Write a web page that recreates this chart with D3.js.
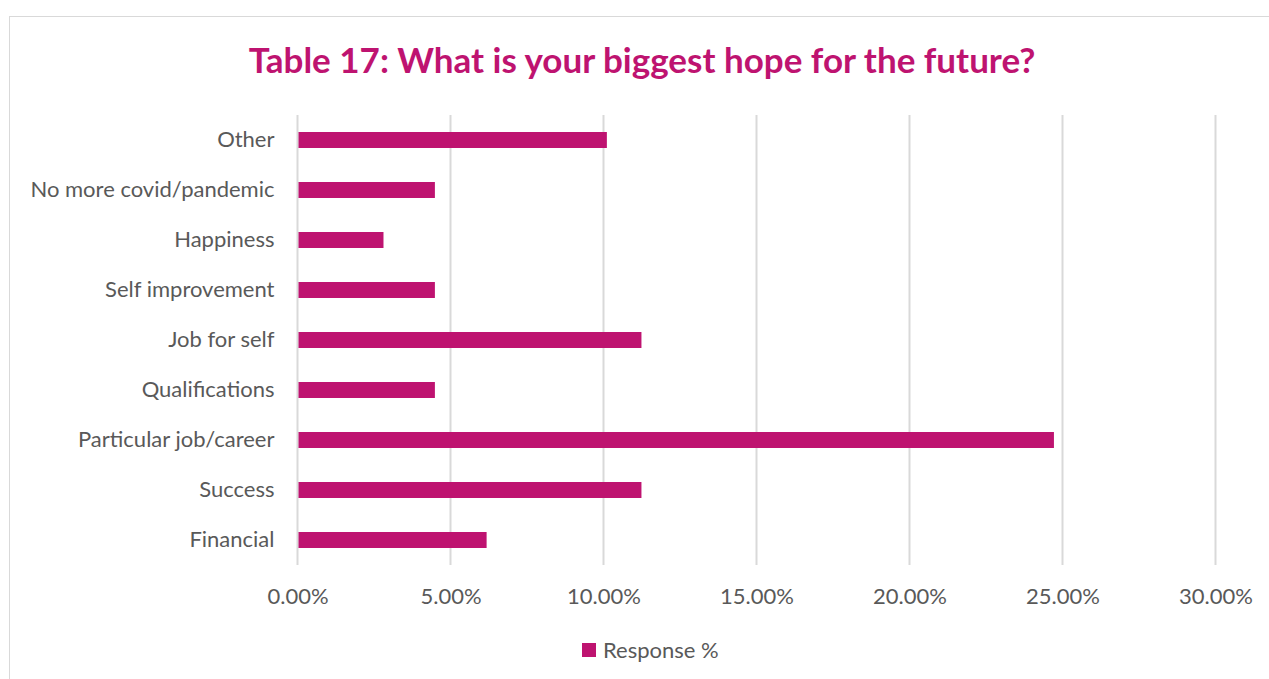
<!DOCTYPE html>
<html>
<head>
<meta charset="utf-8">
<script src="https://cdn.jsdelivr.net/npm/d3@7"></script>
<style>
  html, body { margin: 0; padding: 0; background: #fff; }
  svg { display: block; }
  text { font-family: Lato, "Open Sans", "Liberation Sans", sans-serif; }
</style>
</head>
<body>
<svg id="chart" width="1269" height="679"></svg>
<script>
// Survey answers, listed bottom to top as shown
const categories = [
  "Financial",
  "Success",
  "Particular job/career",
  "Qualifications",
  "Job for self",
  "Self improvement",
  "Happiness",
  "No more covid/pandemic",
  "Other"
];
const responsePct = [6.18, 11.24, 24.72, 4.49, 11.24, 4.49, 2.81, 4.49, 10.11];
const tickValues = [0, 5, 10, 15, 20, 25, 30];
const seriesName = "Response %";
const chartTitle = "Table 17: What is your biggest hope for the future?";

const barColor = "#BE1370";
const textColor = "#595959";

const svg = d3.select("#chart");
const W = 1269, H = 679;

// outer chart frame
svg.append("rect")
  .attr("x", 9.5).attr("y", 16.5)
  .attr("width", W + 10).attr("height", H + 10)
  .attr("fill", "#fff").attr("stroke", "#d9d9d9").attr("stroke-width", 1);

const plot = { left: 297.5, right: 1215.5, top: 115, bottom: 565 };

const x = d3.scaleLinear().domain([0, 30]).range([plot.left, plot.right]);
const y = d3.scaleBand()
  .domain(categories.slice().reverse())
  .range([plot.top, plot.bottom])
  .paddingInner(0.68).paddingOuter(0.34);

// vertical gridlines
svg.append("g")
  .selectAll("line")
  .data(tickValues)
  .join("line")
  .attr("x1", d => x(d)).attr("x2", d => x(d))
  .attr("y1", plot.top).attr("y2", plot.bottom)
  .attr("stroke", "#d9d9d9").attr("stroke-width", 2);

// bars
svg.append("g")
  .selectAll("rect")
  .data(categories.map((c, i) => ({ c, v: responsePct[i] })))
  .join("rect")
  .attr("x", x(0) + 1)
  .attr("y", d => y(d.c))
  .attr("width", d => x(d.v) - x(0) - 1)
  .attr("height", y.bandwidth())
  .attr("fill", barColor);

// category axis labels
const yAxis = d3.axisLeft(y).tickSize(0).tickPadding(23);
const gy = svg.append("g").attr("transform", `translate(${plot.left},0)`).call(yAxis);
gy.select(".domain").remove();
gy.selectAll("text")
  .attr("fill", textColor)
  .style("font-size", "22px")
  .style("font-family", "Lato, sans-serif");

// value axis labels
const xAxis = d3.axisBottom(x).tickValues(tickValues)
  .tickFormat(d => d3.format(".2f")(d) + "%")
  .tickSize(0).tickPadding(23);
const gx = svg.append("g").attr("transform", `translate(0,${plot.bottom})`).call(xAxis);
gx.select(".domain").remove();
gx.selectAll("text")
  .attr("fill", textColor)
  .style("font-size", "22px")
  .style("font-family", "Lato, sans-serif");

// title
svg.append("text")
  .attr("x", 642).attr("y", 73)
  .attr("text-anchor", "middle")
  .attr("fill", barColor)
  .style("font-size", "35px")
  .style("font-weight", "bold")
  .text(chartTitle);

// legend
const lg = svg.append("g").attr("transform", "translate(582,643)");
lg.append("rect").attr("width", 14).attr("height", 14).attr("fill", barColor);
lg.append("text")
  .attr("x", 21).attr("y", 15)
  .attr("fill", textColor)
  .style("font-size", "22px")
  .text(seriesName);
</script>
</body>
</html>
